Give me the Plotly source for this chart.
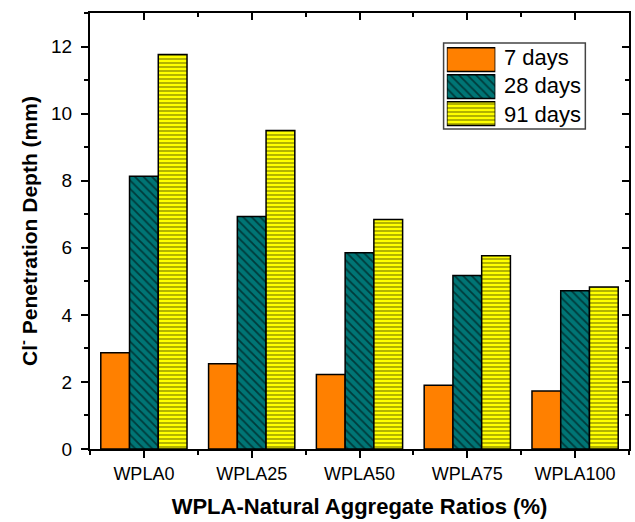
import plotly.graph_objects as go

categories = ["WPLA0", "WPLA25", "WPLA50", "WPLA75", "WPLA100"]
days_7 = [2.87, 2.54, 2.22, 1.90, 1.73]
days_28 = [8.13, 6.93, 5.85, 5.17, 4.72]
days_91 = [11.76, 9.50, 6.84, 5.76, 4.83]
series_names = ["7 days", "28 days", "91 days"]
y_ticks = [0, 2, 4, 6, 8, 10, 12]

ORANGE = "#FF8000"
TEAL = "#007575"
YELLOW = "#FFFF00"
FONT = "Arial, Liberation Sans, sans-serif"

xpos = list(range(len(categories)))
colors = [ORANGE, TEAL, YELLOW]
shapes = ["", "\\", "-"]
psizes = [4, 6, 4]

fig = go.Figure()
for name, vals, col, shp, ps in zip(series_names, [days_7, days_28, days_91],
                                    colors, shapes, psizes):
    fig.add_trace(go.Bar(
        x=xpos, y=vals, name=name, showlegend=False,
        marker=dict(color=col, line=dict(color="black", width=1.5),
                    pattern=dict(shape=shp, fgcolor="black", size=ps,
                                 solidity=0.3)),
    ))

# non-drawing trace that makes the mirror axes (inward ticks) render
fig.add_trace(go.Scatter(x=xpos, y=days_7, xaxis="x2", yaxis="y2",
                         mode="none", showlegend=False, hoverinfo="skip"))

# custom legend swatches (large pattern boxes like the original)
for i, (col, shp, ps) in enumerate(zip(colors, shapes, psizes)):
    fig.add_trace(go.Bar(
        x=[1], y=[i], orientation="h", xaxis="x3", yaxis="y3",
        width=0.88, offset=-0.44, showlegend=False, hoverinfo="skip",
        marker=dict(color=col, line=dict(color="black", width=1.5),
                    pattern=dict(shape=shp, fgcolor="black", size=ps,
                                 solidity=0.3)),
    ))

fig.update_layout(
    width=635, height=522,
    margin=dict(l=90, r=4, t=13, b=73),
    plot_bgcolor="white", paper_bgcolor="white",
    barmode="group", bargap=0.2, bargroupgap=0,
    font=dict(family=FONT, color="black"),
    xaxis=dict(
        range=[-0.5, 4.5], tickmode="array", tickvals=xpos, ticktext=categories,
        ticks="outside", ticklen=7, tickwidth=1.5, tickcolor="black",
        minor=dict(tickmode="linear", tick0=0.5, dtick=1, ticks="outside",
                   ticklen=4, tickwidth=1.5, tickcolor="black"),
        showline=True, linewidth=2, linecolor="black", mirror=True,
        showgrid=False, zeroline=False,
        tickfont=dict(family=FONT, size=18, color="black"),
        title=dict(text="<b>WPLA-Natural Aggregate Ratios (%)</b>",
                   font=dict(family=FONT, size=22, color="black"), standoff=16),
    ),
    yaxis=dict(
        range=[0, 13], tickmode="array", tickvals=y_ticks,
        ticks="outside", ticklen=7, tickwidth=1.5, tickcolor="black",
        minor=dict(tickmode="linear", tick0=1, dtick=2, ticks="outside",
                   ticklen=4, tickwidth=1.5, tickcolor="black"),
        showline=True, linewidth=2, linecolor="black", mirror=True,
        showgrid=False, zeroline=False, ticklabelstandoff=5,
        tickfont=dict(family=FONT, size=19, color="black"),
        title=dict(text="<b>Cl<sup>-</sup> Penetration Depth (mm)</b>",
                   font=dict(family=FONT, size=21, color="black"), standoff=8),
    ),
    xaxis2=dict(
        overlaying="x", side="top", anchor="y", range=[-0.5, 4.5],
        tickmode="array", tickvals=xpos, ticktext=["" for _ in xpos],
        showticklabels=False,
        ticks="inside", ticklen=7, tickwidth=1.5, tickcolor="black",
        minor=dict(tickmode="linear", tick0=0.5, dtick=1, ticks="inside",
                   ticklen=4, tickwidth=1.5, tickcolor="black"),
        showline=False, showgrid=False, zeroline=False,
    ),
    yaxis2=dict(
        overlaying="y", side="right", anchor="x", range=[0, 13],
        tickmode="array", tickvals=y_ticks, showticklabels=False,
        ticks="inside", ticklen=7, tickwidth=1.5, tickcolor="black",
        minor=dict(tickmode="linear", tick0=1, dtick=2, ticks="inside",
                   ticklen=4, tickwidth=1.5, tickcolor="black"),
        showline=False, showgrid=False, zeroline=False,
    ),
    xaxis3=dict(domain=[0.662, 0.752], range=[0, 1], anchor="y3",
                visible=False, fixedrange=True),
    yaxis3=dict(domain=[0.7385, 0.9243], range=[2.5, -0.5], anchor="x3",
                visible=False, fixedrange=True),
)

# legend box
fig.add_shape(type="rect", xref="paper", yref="paper",
              x0=0.656, x1=0.919, y0=0.734, y1=0.931,
              line=dict(color="#444444", width=1.5), fillcolor="rgba(0,0,0,0)",
              layer="below")

legend_y = [0.897, 0.833, 0.768]
for name, yy in zip(series_names, legend_y):
    fig.add_annotation(text=name, xref="paper", yref="paper", x=0.765, y=yy,
                       xanchor="left", yanchor="middle", showarrow=False,
                       font=dict(family=FONT, size=22, color="black"))

fig.write_html("out.html")
